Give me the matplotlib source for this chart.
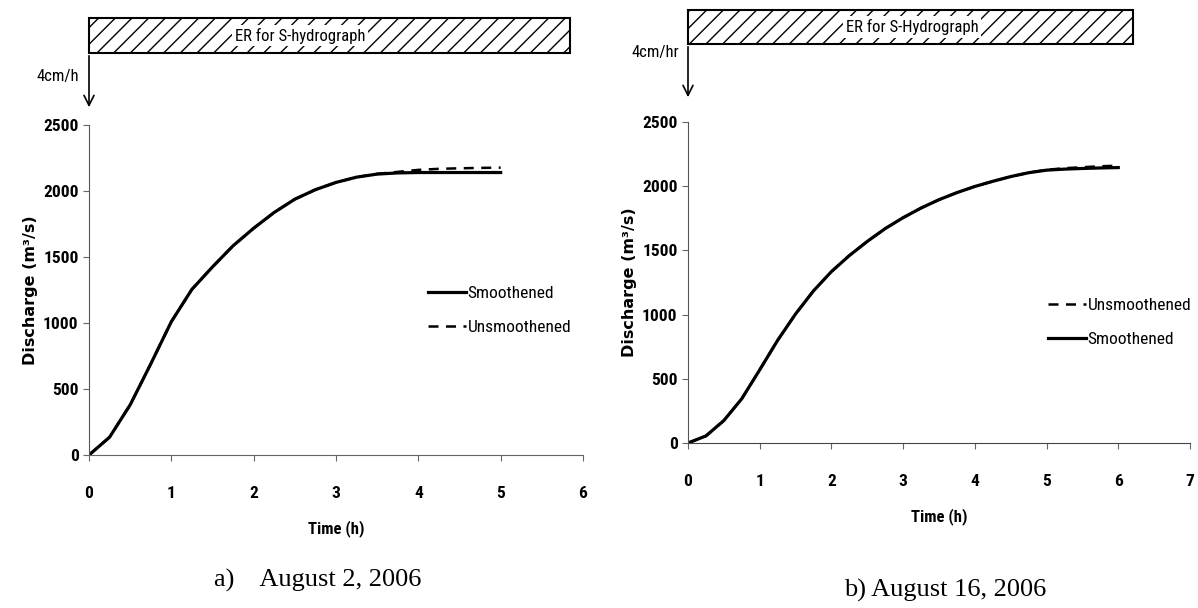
import matplotlib
matplotlib.use("Agg")
import matplotlib.pyplot as plt
from matplotlib.patches import Rectangle

# ---- data ----
time_a = [0, 0.25, 0.5, 0.75, 1.0, 1.25, 1.5, 1.75, 2.0, 2.25, 2.5, 2.75,
          3.0, 3.25, 3.5, 3.75, 4.0, 4.25, 4.5, 4.75, 5.0]
smooth_a = [0, 135, 380, 690, 1010, 1255, 1425, 1585, 1718, 1838, 1938, 2010,
            2065, 2105, 2128, 2137, 2140, 2140, 2140, 2140, 2140]
unsmooth_a = [0, 135, 380, 690, 1010, 1255, 1425, 1585, 1718, 1838, 1938, 2010,
              2065, 2105, 2130, 2145, 2160, 2168, 2172, 2175, 2177]

time_b = [0, 0.25, 0.5, 0.75, 1.0, 1.25, 1.5, 1.75, 2.0, 2.25, 2.5, 2.75,
          3.0, 3.25, 3.5, 3.75, 4.0, 4.25, 4.5, 4.75, 5.0, 5.25, 5.5, 5.75, 6.0]
smooth_b = [0, 55, 175, 345, 570, 800, 1005, 1185, 1335, 1460, 1570, 1670,
            1755, 1830, 1895, 1950, 1998, 2038, 2075, 2105, 2125, 2133, 2138, 2142, 2145]
unsmooth_b = [0, 55, 175, 345, 570, 800, 1005, 1185, 1335, 1460, 1570, 1670,
              1755, 1830, 1895, 1950, 1998, 2038, 2075, 2105, 2128, 2140, 2148, 2155, 2160]

yticks = [0, 500, 1000, 1500, 2000, 2500]

W, H = 1198, 608
NARROW = ["DejaVu Sans Condensed", "Roboto Condensed", "Roboto"]
SERIF = ["Liberation Serif", "DejaVu Serif"]

fig = plt.figure(figsize=(W / 100, H / 100), dpi=100)


def px_axes(x0, x1, y_bottom, y_top):
    return fig.add_axes([x0 / W, 1 - y_bottom / H, (x1 - x0) / W, (y_bottom - y_top) / H])


def style(ax, xmax, solid_bottom, labelpad):
    ax.set_xlim(0, xmax)
    ax.set_ylim(0, 2500)
    ax.set_yticks(yticks)
    ax.set_xticks(range(xmax + 1))
    for s in ("top", "right"):
        ax.spines[s].set_visible(False)
    ax.spines["left"].set_linestyle((0, (1, 1)))
    ax.spines["left"].set_color("#555")
    ax.spines["bottom"].set_color("#444" if solid_bottom else "#666")
    if not solid_bottom:
        ax.spines["bottom"].set_linestyle((0, (1, 1)))
    ax.tick_params(axis="both", length=4, width=0.8, color="#666", labelsize=12.5)
    ax.tick_params(axis="x", pad=18)
    for lab in ax.get_xticklabels() + ax.get_yticklabels():
        lab.set_family(NARROW)
        lab.set_fontweight("bold")
    ax.set_ylabel("Discharge (m\u00b3/s)", fontsize=11.5, fontweight="bold", family="DejaVu Sans")
    ax.set_xlabel("Time (h)", fontsize=12, fontweight="bold", family=NARROW, labelpad=labelpad)


# panel a
ax1 = px_axes(89, 583, 455, 125)
ax1.plot(time_a, smooth_a, color="black", lw=2.3, label="Smoothened")
ax1.plot(time_a, unsmooth_a, color="black", lw=1.8, ls=(0, (4, 3)), label="Unsmoothened")
style(ax1, 6, solid_bottom=False, labelpad=14)
ax1.legend(loc="upper left", bbox_to_anchor=(412 / W, 1 - 270 / H), bbox_transform=fig.transFigure,
           frameon=False, handlelength=2.2, handletextpad=0.1, labelspacing=1.1,
           prop={"family": NARROW, "size": 12.5})

# panel b
ax2 = px_axes(688, 1190, 443, 122)
ax2.plot(time_b, unsmooth_b, color="black", lw=1.8, ls=(0, (4, 3)), label="Unsmoothened")
ax2.plot(time_b, smooth_b, color="black", lw=2.3, label="Smoothened")
style(ax2, 7, solid_bottom=True, labelpad=14)
ax2.legend(loc="upper left", bbox_to_anchor=(1032 / W, 1 - 282 / H), bbox_transform=fig.transFigure,
           frameon=False, handlelength=2.2, handletextpad=0.1, labelspacing=1.1,
           prop={"family": NARROW, "size": 12.5})

# overlay in pixel coordinates for the rainfall bars, arrows and captions
ov = fig.add_axes([0, 0, 1, 1])
ov.set_xlim(0, W)
ov.set_ylim(H, 0)
ov.axis("off")

plt.rcParams["hatch.linewidth"] = 1.0
bars = [
    # x0, x1, top, bottom, label, label x, arrow tip, rate text, rate x, rate y
    (89, 570, 18, 53, "ER for S-hydrograph", 300, 110, "4cm/h", 58, 77),
    (688, 1133, 10, 44, "ER for S-Hydrograph", 912, 100, "4cm/hr", 655, 52),
]
for x0, x1, top, bot, text, lx, tip, rate, rx, ry in bars:
    ov.add_patch(Rectangle((x0, top), x1 - x0, bot - top, facecolor="white",
                           edgecolor="black", hatch="//", lw=1.5))
    ov.text(lx, (top + bot) / 2, text, ha="center", va="center", fontsize=12,
            family=NARROW, bbox=dict(facecolor="white", edgecolor="none", pad=2))
    ov.annotate("", xy=(x0, tip), xytext=(x0, bot),
                arrowprops=dict(arrowstyle="->", color="black", lw=1.2, mutation_scale=18))
    ov.text(rx, ry, rate, ha="center", va="center", fontsize=12, family=NARROW)

ov.text(318, 580, "a)    August 2, 2006", ha="center", va="center", fontsize=19, family=SERIF)
ov.text(945, 590, "b) August 16, 2006", ha="center", va="center", fontsize=19, family=SERIF)

fig.savefig("out.png", dpi=100)
